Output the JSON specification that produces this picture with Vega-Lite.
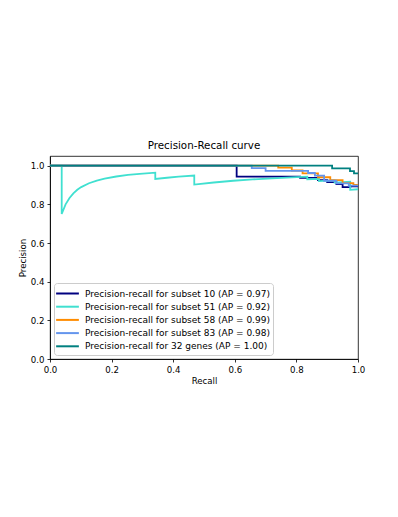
{
  "$schema": "https://vega.github.io/schema/vega-lite/v6.json",
  "autosize": "none",
  "padding": {"left": 50, "top": 156, "right": 40, "bottom": 158},
  "width": 308,
  "height": 203,
  "title": {"text": "Precision-Recall curve", "font": "DejaVu Sans", "fontSize": 10.3, "fontWeight": "normal", "color": "black", "offset": 5},
  "data": {"values": [
    {"s": "Precision-recall for subset 10 (AP = 0.97)", "i": 0, "r": 0, "p": 1},
    {"s": "Precision-recall for subset 10 (AP = 0.97)", "i": 1, "r": 0.606, "p": 1},
    {"s": "Precision-recall for subset 10 (AP = 0.97)", "i": 2, "r": 0.606, "p": 0.943},
    {"s": "Precision-recall for subset 10 (AP = 0.97)", "i": 3, "r": 0.812, "p": 0.943},
    {"s": "Precision-recall for subset 10 (AP = 0.97)", "i": 4, "r": 0.812, "p": 0.937},
    {"s": "Precision-recall for subset 10 (AP = 0.97)", "i": 5, "r": 0.87, "p": 0.937},
    {"s": "Precision-recall for subset 10 (AP = 0.97)", "i": 6, "r": 0.87, "p": 0.925},
    {"s": "Precision-recall for subset 10 (AP = 0.97)", "i": 7, "r": 0.9, "p": 0.925},
    {"s": "Precision-recall for subset 10 (AP = 0.97)", "i": 8, "r": 0.9, "p": 0.915},
    {"s": "Precision-recall for subset 10 (AP = 0.97)", "i": 9, "r": 0.93, "p": 0.915},
    {"s": "Precision-recall for subset 10 (AP = 0.97)", "i": 10, "r": 0.93, "p": 0.905},
    {"s": "Precision-recall for subset 10 (AP = 0.97)", "i": 11, "r": 0.95, "p": 0.905},
    {"s": "Precision-recall for subset 10 (AP = 0.97)", "i": 12, "r": 0.95, "p": 0.889},
    {"s": "Precision-recall for subset 10 (AP = 0.97)", "i": 13, "r": 0.975, "p": 0.889},
    {"s": "Precision-recall for subset 10 (AP = 0.97)", "i": 14, "r": 0.975, "p": 0.893},
    {"s": "Precision-recall for subset 10 (AP = 0.97)", "i": 15, "r": 1.0, "p": 0.893},

    {"s": "Precision-recall for subset 51 (AP = 0.92)", "i": 0, "r": 0, "p": 1},
    {"s": "Precision-recall for subset 51 (AP = 0.92)", "i": 1, "r": 0.038, "p": 1},
    {"s": "Precision-recall for subset 51 (AP = 0.92)", "i": 2, "r": 0.038, "p": 0.75},
    {"s": "Precision-recall for subset 51 (AP = 0.92)", "i": 3, "r": 0.0506, "p": 0.8},
    {"s": "Precision-recall for subset 51 (AP = 0.92)", "i": 4, "r": 0.0633, "p": 0.833},
    {"s": "Precision-recall for subset 51 (AP = 0.92)", "i": 5, "r": 0.0759, "p": 0.857},
    {"s": "Precision-recall for subset 51 (AP = 0.92)", "i": 6, "r": 0.0886, "p": 0.875},
    {"s": "Precision-recall for subset 51 (AP = 0.92)", "i": 7, "r": 0.1013, "p": 0.889},
    {"s": "Precision-recall for subset 51 (AP = 0.92)", "i": 8, "r": 0.1266, "p": 0.909},
    {"s": "Precision-recall for subset 51 (AP = 0.92)", "i": 9, "r": 0.1519, "p": 0.923},
    {"s": "Precision-recall for subset 51 (AP = 0.92)", "i": 10, "r": 0.1772, "p": 0.933},
    {"s": "Precision-recall for subset 51 (AP = 0.92)", "i": 11, "r": 0.2152, "p": 0.944},
    {"s": "Precision-recall for subset 51 (AP = 0.92)", "i": 12, "r": 0.2532, "p": 0.952},
    {"s": "Precision-recall for subset 51 (AP = 0.92)", "i": 13, "r": 0.2911, "p": 0.958},
    {"s": "Precision-recall for subset 51 (AP = 0.92)", "i": 14, "r": 0.3418, "p": 0.964},
    {"s": "Precision-recall for subset 51 (AP = 0.92)", "i": 15, "r": 0.3418, "p": 0.931},
    {"s": "Precision-recall for subset 51 (AP = 0.92)", "i": 16, "r": 0.3797, "p": 0.9375},
    {"s": "Precision-recall for subset 51 (AP = 0.92)", "i": 17, "r": 0.4177, "p": 0.943},
    {"s": "Precision-recall for subset 51 (AP = 0.92)", "i": 18, "r": 0.4684, "p": 0.949},
    {"s": "Precision-recall for subset 51 (AP = 0.92)", "i": 19, "r": 0.4684, "p": 0.902},
    {"s": "Precision-recall for subset 51 (AP = 0.92)", "i": 20, "r": 0.5316, "p": 0.913},
    {"s": "Precision-recall for subset 51 (AP = 0.92)", "i": 21, "r": 0.5949, "p": 0.922},
    {"s": "Precision-recall for subset 51 (AP = 0.92)", "i": 22, "r": 0.6582, "p": 0.929},
    {"s": "Precision-recall for subset 51 (AP = 0.92)", "i": 23, "r": 0.7215, "p": 0.934},
    {"s": "Precision-recall for subset 51 (AP = 0.92)", "i": 24, "r": 0.7848, "p": 0.939},
    {"s": "Precision-recall for subset 51 (AP = 0.92)", "i": 25, "r": 0.8354, "p": 0.943},
    {"s": "Precision-recall for subset 51 (AP = 0.92)", "i": 26, "r": 0.8354, "p": 0.93},
    {"s": "Precision-recall for subset 51 (AP = 0.92)", "i": 27, "r": 0.8734, "p": 0.932},
    {"s": "Precision-recall for subset 51 (AP = 0.92)", "i": 28, "r": 0.8734, "p": 0.92},
    {"s": "Precision-recall for subset 51 (AP = 0.92)", "i": 29, "r": 0.924, "p": 0.924},
    {"s": "Precision-recall for subset 51 (AP = 0.92)", "i": 30, "r": 0.924, "p": 0.9125},
    {"s": "Precision-recall for subset 51 (AP = 0.92)", "i": 31, "r": 0.9747, "p": 0.917},
    {"s": "Precision-recall for subset 51 (AP = 0.92)", "i": 32, "r": 0.9747, "p": 0.875},
    {"s": "Precision-recall for subset 51 (AP = 0.92)", "i": 33, "r": 1.0, "p": 0.878},

    {"s": "Precision-recall for subset 58 (AP = 0.99)", "i": 0, "r": 0, "p": 1},
    {"s": "Precision-recall for subset 58 (AP = 0.99)", "i": 1, "r": 0.741, "p": 1},
    {"s": "Precision-recall for subset 58 (AP = 0.99)", "i": 2, "r": 0.741, "p": 0.99},
    {"s": "Precision-recall for subset 58 (AP = 0.99)", "i": 3, "r": 0.785, "p": 0.99},
    {"s": "Precision-recall for subset 58 (AP = 0.99)", "i": 4, "r": 0.785, "p": 0.975},
    {"s": "Precision-recall for subset 58 (AP = 0.99)", "i": 5, "r": 0.82, "p": 0.975},
    {"s": "Precision-recall for subset 58 (AP = 0.99)", "i": 6, "r": 0.82, "p": 0.96},
    {"s": "Precision-recall for subset 58 (AP = 0.99)", "i": 7, "r": 0.87, "p": 0.96},
    {"s": "Precision-recall for subset 58 (AP = 0.99)", "i": 8, "r": 0.87, "p": 0.94},
    {"s": "Precision-recall for subset 58 (AP = 0.99)", "i": 9, "r": 0.91, "p": 0.94},
    {"s": "Precision-recall for subset 58 (AP = 0.99)", "i": 10, "r": 0.91, "p": 0.925},
    {"s": "Precision-recall for subset 58 (AP = 0.99)", "i": 11, "r": 0.95, "p": 0.925},
    {"s": "Precision-recall for subset 58 (AP = 0.99)", "i": 12, "r": 0.95, "p": 0.91},
    {"s": "Precision-recall for subset 58 (AP = 0.99)", "i": 13, "r": 0.985, "p": 0.91},
    {"s": "Precision-recall for subset 58 (AP = 0.99)", "i": 14, "r": 0.985, "p": 0.9},
    {"s": "Precision-recall for subset 58 (AP = 0.99)", "i": 15, "r": 1.0, "p": 0.9},

    {"s": "Precision-recall for subset 83 (AP = 0.98)", "i": 0, "r": 0, "p": 1},
    {"s": "Precision-recall for subset 83 (AP = 0.98)", "i": 1, "r": 0.655, "p": 1},
    {"s": "Precision-recall for subset 83 (AP = 0.98)", "i": 2, "r": 0.655, "p": 0.987},
    {"s": "Precision-recall for subset 83 (AP = 0.98)", "i": 3, "r": 0.7, "p": 0.987},
    {"s": "Precision-recall for subset 83 (AP = 0.98)", "i": 4, "r": 0.7, "p": 0.973},
    {"s": "Precision-recall for subset 83 (AP = 0.98)", "i": 5, "r": 0.838, "p": 0.973},
    {"s": "Precision-recall for subset 83 (AP = 0.98)", "i": 6, "r": 0.838, "p": 0.962},
    {"s": "Precision-recall for subset 83 (AP = 0.98)", "i": 7, "r": 0.86, "p": 0.962},
    {"s": "Precision-recall for subset 83 (AP = 0.98)", "i": 8, "r": 0.86, "p": 0.948},
    {"s": "Precision-recall for subset 83 (AP = 0.98)", "i": 9, "r": 0.89, "p": 0.948},
    {"s": "Precision-recall for subset 83 (AP = 0.98)", "i": 10, "r": 0.89, "p": 0.922},
    {"s": "Precision-recall for subset 83 (AP = 0.98)", "i": 11, "r": 0.93, "p": 0.922},
    {"s": "Precision-recall for subset 83 (AP = 0.98)", "i": 12, "r": 0.93, "p": 0.908},
    {"s": "Precision-recall for subset 83 (AP = 0.98)", "i": 13, "r": 0.97, "p": 0.908},
    {"s": "Precision-recall for subset 83 (AP = 0.98)", "i": 14, "r": 0.97, "p": 0.897},
    {"s": "Precision-recall for subset 83 (AP = 0.98)", "i": 15, "r": 1.0, "p": 0.897},

    {"s": "Precision-recall for 32 genes (AP = 1.00)", "i": 0, "r": 0, "p": 1},
    {"s": "Precision-recall for 32 genes (AP = 1.00)", "i": 1, "r": 0.916, "p": 1},
    {"s": "Precision-recall for 32 genes (AP = 1.00)", "i": 2, "r": 0.916, "p": 0.986},
    {"s": "Precision-recall for 32 genes (AP = 1.00)", "i": 3, "r": 0.974, "p": 0.986},
    {"s": "Precision-recall for 32 genes (AP = 1.00)", "i": 4, "r": 0.974, "p": 0.972},
    {"s": "Precision-recall for 32 genes (AP = 1.00)", "i": 5, "r": 0.987, "p": 0.972},
    {"s": "Precision-recall for 32 genes (AP = 1.00)", "i": 6, "r": 0.987, "p": 0.96},
    {"s": "Precision-recall for 32 genes (AP = 1.00)", "i": 7, "r": 1.0, "p": 0.96}
  ]},
  "mark": {"type": "line", "strokeWidth": 1.8, "clip": true},
  "encoding": {
    "x": {"field": "r", "type": "quantitative", "title": "Recall",
      "scale": {"domain": [0, 1], "nice": false, "zero": false},
      "axis": {"values": [0, 0.2, 0.4, 0.6, 0.8, 1.0], "format": ".1f", "labelFlush": false}},
    "y": {"field": "p", "type": "quantitative", "title": "Precision",
      "scale": {"domain": [0, 1.05], "nice": false, "zero": false},
      "axis": {"values": [0, 0.2, 0.4, 0.6, 0.8, 1.0], "format": ".1f", "labelFlush": false}},
    "order": {"field": "i", "type": "quantitative"},
    "color": {"field": "s", "type": "nominal",
      "scale": {
        "domain": ["Precision-recall for subset 10 (AP = 0.97)", "Precision-recall for subset 51 (AP = 0.92)", "Precision-recall for subset 58 (AP = 0.99)", "Precision-recall for subset 83 (AP = 0.98)", "Precision-recall for 32 genes (AP = 1.00)"],
        "range": ["#000080", "#40E0D0", "#FF8C00", "#6495ED", "#008080"]},
      "legend": {"title": null, "orient": "none", "legendX": 4, "legendY": 127, "padding": 3,
        "symbolType": "M-1.8,0H1.8", "symbolSize": 160, "symbolStrokeWidth": 2, "symbolOffset": 3,
        "labelFontSize": 9, "labelFont": "DejaVu Sans", "labelColor": "black", "labelLimit": 0, "labelOffset": 10,
        "rowPadding": 0.2, "strokeColor": "#cccccc", "fillColor": "white", "cornerRadius": 3}}
  },
  "config": {
    "view": {"stroke": "black", "strokeWidth": 0.8},
    "axis": {"grid": false, "domainColor": "black", "domainWidth": 0.8, "tickColor": "black", "tickWidth": 0.8, "tickSize": 3,
      "labelFont": "DejaVu Sans", "labelFontSize": 8.6, "labelColor": "black",
      "titleFont": "DejaVu Sans", "titleFontSize": 8.6, "titleFontWeight": "normal", "titleColor": "black", "labelPadding": 3, "titlePadding": 3}
  }
}
